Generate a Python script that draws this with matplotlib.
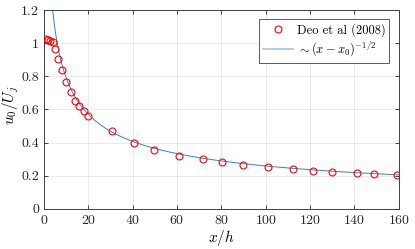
import numpy as np
import matplotlib
matplotlib.use("Agg")
import matplotlib.pyplot as plt
from matplotlib.lines import Line2D

plt.rcParams['font.family'] = 'serif'
plt.rcParams['font.serif'] = ['cmr10']
plt.rcParams['mathtext.fontset'] = 'cm'
plt.rcParams['axes.formatter.use_mathtext'] = True

# Data (Deo et al 2008)
x_deo = [0.75, 1.65, 2.7, 3.9, 5.0, 6.3, 8.0, 10.0, 12.2, 14.1, 15.9, 18.0, 20.0,
         30.5, 40.7, 49.8, 60.7, 71.6, 80.3, 89.8, 100.8, 112.2, 121.2, 129.7,
         141.0, 148.6, 159.3]
u_deo = [1.023, 1.019, 1.015, 1.009, 0.963, 0.907, 0.836, 0.764, 0.704, 0.650,
         0.621, 0.591, 0.559, 0.468, 0.396, 0.358, 0.321, 0.300, 0.281, 0.267,
         0.251, 0.241, 0.229, 0.225, 0.217, 0.211, 0.205]

# Fit parameters for ~ (x - x0)^(-1/2)
fit_A = 2.6
fit_x0 = -0.8
fit_xmin = 3.5
fit_xmax = 160

xticks = [0, 20, 40, 60, 80, 100, 120, 140, 160]
yticks = [0, 0.2, 0.4, 0.6, 0.8, 1.0, 1.2]
yticklabels = ['0', '0.2', '0.4', '0.6', '0.8', '1', '1.2']

fig = plt.figure(figsize=(4.15, 2.49), dpi=100)
ax = fig.add_axes([0.106, 0.161, 0.855, 0.799])

xf = np.linspace(fit_xmin, fit_xmax, 400)
yf = fit_A / np.sqrt(xf - fit_x0)

ax.plot(x_deo, u_deo, 'o', mfc='none', mec='#ff0000', mew=0.8, ms=5, zorder=3)
ax.plot(xf, yf, '-', color='#2a86cc', lw=0.7, zorder=2)

ax.set_xlim(0, 160)
ax.set_ylim(0, 1.2)
ax.set_xticks(xticks)
ax.set_yticks(yticks)
ax.set_yticklabels(yticklabels)
ax.tick_params(direction='in', top=True, right=True, labelsize=10,
               length=3, width=0.6, colors='#262626', labelcolor='#262626')
ax.grid(True, color='#e6e6e6', lw=0.6)
ax.set_axisbelow(True)
for s in ax.spines.values():
    s.set_color('#404040')
    s.set_linewidth(0.7)

ax.set_xlabel(r'$x/h$', fontsize=11, labelpad=1)
ax.set_ylabel(r'$u_0/U_j$', fontsize=11)
ax.yaxis.set_label_coords(-0.066, 0.52)

handles = [
    Line2D([], [], ls='none', marker='o', mfc='none', mec='#ff0000', mew=0.8, ms=5),
    Line2D([], [], color='#9cc6ea', lw=1.2),
]
labels = ['Deo et al (2008)', r'$\sim(x-x_0)^{-1/2}$']
leg = ax.legend(handles, labels, loc='upper right', fontsize=9, frameon=True,
                fancybox=False, edgecolor='#404040', framealpha=1, borderpad=0.3,
                handlelength=2.4, handletextpad=0.3, borderaxespad=0.75,
                labelspacing=0.25)
leg.get_frame().set_linewidth(0.6)

fig.savefig('out.png', dpi=100)
